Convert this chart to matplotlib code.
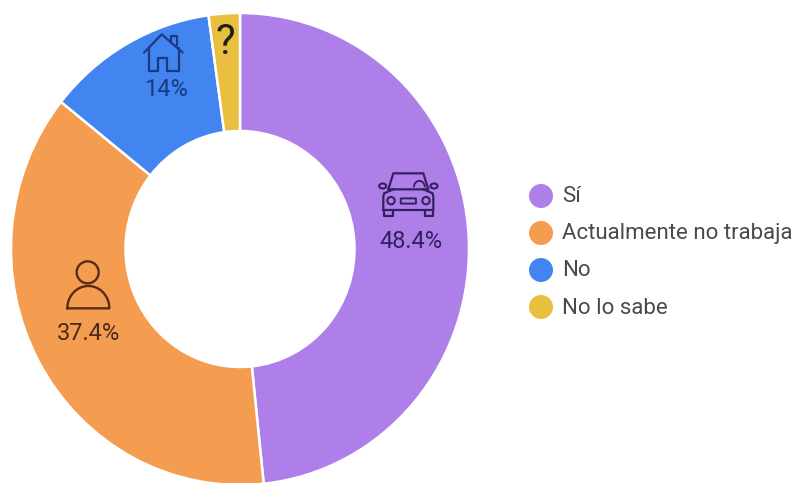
import numpy as np
import matplotlib
matplotlib.use("Agg")
import matplotlib.pyplot as plt
from matplotlib.patches import Circle, Ellipse, FancyBboxPatch, Arc

plt.rcParams['font.family'] = ['Roboto', 'DejaVu Sans']

# Data
categories = ["Sí", "Actualmente no trabaja", "No", "No lo sabe"]
# slice sizes as drawn (the 14% label is larger than its slice in the original)
slice_values = [48.4, 37.4, 12.1, 2.2]
slice_labels = ["48.4%", "37.4%", "14%", ""]
colors = ["#AE7FE8", "#F49C50", "#4285F0", "#E8BF3E"]

W, H = 797, 483
CX, CY = 240, 249
RX, RY = 229, 236
ICON_PURPLE = "#33205f"
ICON_ORANGE = "#5c2a18"
ICON_BLUE = "#1b3a80"

fig = plt.figure(figsize=(W / 100, H / 100), dpi=100)

# Donut, stretched a bit taller than wide like the original
ax = fig.add_axes([(CX - RX) / W, 1 - (CY + RY) / H, 2 * RX / W, 2 * RY / H])
ax.pie(slice_values, colors=colors, startangle=90, counterclock=False, radius=1,
       wedgeprops=dict(width=0.5, edgecolor="white", linewidth=1.8))
ax.set_aspect("auto")
ax.set_xlim(-1, 1)
ax.set_ylim(-1, 1)
ax.axis("off")

# Overlay in image pixels for the icons, labels and legend
ov = fig.add_axes([0, 0, 1, 1])
ov.set_xlim(0, W)
ov.set_ylim(H, 0)
ov.axis("off")


def trace(xs, ys, ox, oy, color, lw=1.6):
    ov.plot(np.array(xs) / 3 + ox, np.array(ys) / 3 + oy, color=color, lw=lw,
            solid_capstyle="round", solid_joinstyle="round")


# House
hx, hy = 120, 0
trace([72, 125, 188], [158, 103, 158], hx, hy, ICON_BLUE)
trace([152, 152, 172, 172], [122, 108, 108, 136], hx, hy, ICON_BLUE)
trace([88, 88, 115, 115, 140, 140, 178, 178], [145, 212, 212, 175, 175, 212, 212, 145], hx, hy, ICON_BLUE)

# Question mark
ov.text(225, 42, "?", fontsize=30, color="#222018", ha="center", va="center")

# Car
cx, cy = 360, 160
trace([85, 100, 190, 205, 85], [88, 40, 40, 88, 88], cx, cy, ICON_PURPLE)
trace([70, 70, 72, 100, 100], [150, 110, 100, 88, 88], cx, cy, ICON_PURPLE)
trace([220, 220, 218, 190], [150, 110, 100, 88], cx, cy, ICON_PURPLE)
trace([70, 220], [150, 150], cx, cy, ICON_PURPLE)
trace([72, 72, 100, 100], [150, 168, 168, 150], cx, cy, ICON_PURPLE)
trace([195, 195, 220, 220], [150, 168, 168, 150], cx, cy, ICON_PURPLE)
for mx in [68, 222]:
    ov.add_patch(Ellipse((cx + mx / 3, cy + 78 / 3), 7, 5, fc="none", ec=ICON_PURPLE, lw=1.5))
for lx in [93, 198]:
    ov.add_patch(Circle((cx + lx / 3, cy + 122 / 3), 3.7, fc="none", ec=ICON_PURPLE, lw=1.5))
ov.add_patch(FancyBboxPatch((cx + 124 / 3, cy + 117 / 3), 14, 4, boxstyle="round,pad=0.6",
                            fc="none", ec=ICON_PURPLE, lw=1.4))
ov.add_patch(Arc((cx + 178 / 3, cy + 82 / 3), 11, 13, theta1=180, theta2=360, ec=ICON_PURPLE, lw=1.3))

# Person
px, py = 40, 250
ov.add_patch(Circle((px + 143 / 3, py + 67 / 3), 11, fc="none", ec=ICON_ORANGE, lw=1.7))
t = np.linspace(np.pi, 2 * np.pi, 50)
trace(list(145 + 63 * np.cos(t)) + [82], list(175 + 67 * np.sin(t)) + [175], px, py, ICON_ORANGE, lw=1.7)

# Slice labels
label_pos = [(411, 241), (89, 333), (166, 90)]
label_colors = [ICON_PURPLE, "#4a2a1c", ICON_BLUE]
for (lx, ly), text, col in zip(label_pos, slice_labels, label_colors):
    ov.text(lx, ly, text, fontsize=17, color=col, ha="center", va="center")

# Legend
legend_y = [196, 233, 270, 307]
for y, name, col in zip(legend_y, categories, colors):
    ov.add_patch(Circle((541, y), 12, fc=col, ec="none"))
    ov.text(562, y + 1, name, fontsize=16, color="#4a4a4a", ha="left", va="center")

fig.savefig("out.png", dpi=100, facecolor="white")
